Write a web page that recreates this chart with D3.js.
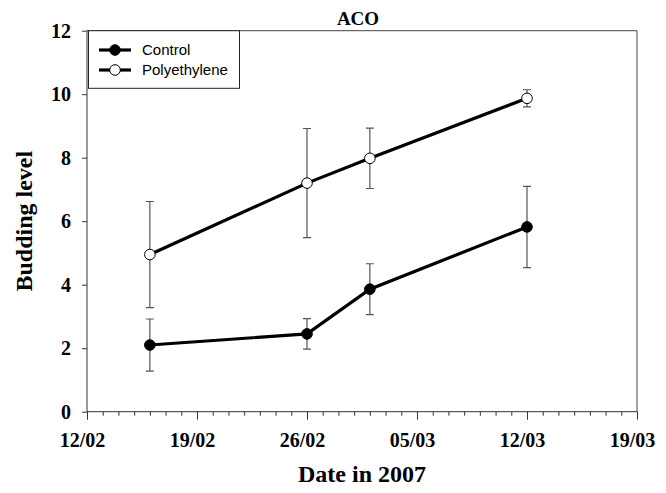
<!DOCTYPE html>
<html>
<head>
<meta charset="utf-8">
<script src="https://cdn.jsdelivr.net/npm/d3@7/dist/d3.min.js"></script>
<style>
  html, body { margin: 0; padding: 0; background: #fff; }
  svg { display: block; }
  .tick text { font-family: 'Liberation Serif', 'Times New Roman', serif; font-size: 20px; font-weight: bold; }
</style>
</head>
<body>
<div id="chart"></div>
<script>
// Sampling dates and budding level (mean ± error) for each treatment
const dates = ["2007-02-16", "2007-02-26", "2007-03-02", "2007-03-12"];
const controlMean = [2.10, 2.45, 3.86, 5.82];
const controlErr = [0.82, 0.48, 0.80, 1.28];
const polyMean = [4.95, 7.20, 7.98, 9.87];
const polyErr = [1.67, 1.72, 0.95, 0.27];
const seriesNames = ["Control", "Polyethylene"];
const xTickLabels = ["12/02", "19/02", "26/02", "05/03", "12/03", "19/03"];
const yTicks = [0, 2, 4, 6, 8, 10, 12];

const W = 666, H = 493;
const margin = { left: 87, right: 29, top: 30.7, bottom: 81.3 };
const serif = "'Liberation Serif', 'Times New Roman', serif";
const sans = "'Liberation Sans', Arial, sans-serif";

const parseDate = d3.timeParse("%Y-%m-%d");
const parseTick = d3.timeParse("%d/%m/%Y");
const tickDates = xTickLabels.map(t => parseTick(t + "/2007"));

const svg = d3.select("#chart").append("svg")
  .attr("width", W).attr("height", H);

const x = d3.scaleTime()
  .domain([tickDates[0], tickDates[tickDates.length - 1]])
  .range([margin.left, W - margin.right]);
const y = d3.scaleLinear()
  .domain([0, 12])
  .range([H - margin.bottom, margin.top]);

const x0 = x.range()[0], x1 = x.range()[1];
const y0 = y.range()[0], y1 = y.range()[1];

// Frame: top and right edges
svg.append("path")
  .attr("d", `M${x0},${y1}H${x1}V${y0}`)
  .attr("fill", "none").attr("stroke", "#444").attr("stroke-width", 1);

// Daily minor ticks on the x axis
const minorDays = d3.timeDay.range(tickDates[0], d3.timeDay.offset(tickDates[tickDates.length - 1], 1));
const xMinor = d3.axisBottom(x).tickValues(minorDays).tickSize(4).tickFormat("");
svg.append("g").attr("transform", `translate(0,${y0})`).call(xMinor)
  .call(g => g.select(".domain").remove())
  .call(g => g.selectAll("line").attr("stroke", "#333"));

// Major x axis
const xAxis = d3.axisBottom(x)
  .tickValues(tickDates)
  .tickSize(8)
  .tickPadding(13)
  .tickFormat((d, i) => xTickLabels[i]);
svg.append("g").attr("transform", `translate(0,${y0})`).call(xAxis)
  .attr("font-family", serif).attr("font-size", 20).attr("font-weight", "bold")
  .call(g => g.select(".domain").attr("stroke", "#333").attr("d", `M${x0},0H${x1}`))
  .call(g => g.selectAll("line").attr("stroke", "#333"))
  .call(g => g.selectAll("text").attr("dx", -5).attr("fill", "#000"));

// y axis
const yAxis = d3.axisLeft(y).tickValues(yTicks).tickSize(5).tickPadding(11);
svg.append("g").attr("transform", `translate(${x0},0)`).call(yAxis)
  .attr("font-family", serif).attr("font-size", 20).attr("font-weight", "bold")
  .call(g => g.select(".domain").attr("stroke", "#333").attr("d", `M0,${y0}V${y1}`))
  .call(g => g.selectAll("line").attr("stroke", "#333"))
  .call(g => g.selectAll("text").attr("fill", "#000"));

// Titles
svg.append("text")
  .attr("x", (x0 + x1) / 2 - 4).attr("y", 25)
  .attr("text-anchor", "middle")
  .style("font-family", serif).style("font-size", "19px").style("font-weight", "bold")
  .text("ACO");

svg.append("text")
  .attr("x", (x0 + x1) / 2).attr("y", 482)
  .attr("text-anchor", "middle")
  .style("font-family", serif).style("font-size", "24px").style("font-weight", "bold")
  .text("Date in 2007");

svg.append("text")
  .attr("transform", `translate(32,${(y0 + y1) / 2}) rotate(-90)`)
  .attr("text-anchor", "middle")
  .style("font-family", serif).style("font-size", "24px").style("font-weight", "bold")
  .text("Budding level");

// Series
const series = [
  { name: seriesNames[0], mean: controlMean, err: controlErr, fill: "#000" },
  { name: seriesNames[1], mean: polyMean, err: polyErr, fill: "#fff" }
].map(s => ({
  ...s,
  pts: dates.map((d, i) => ({ date: parseDate(d), v: s.mean[i], e: s.err[i] }))
}));

const capHalf = 4;
series.forEach(s => {
  const eb = svg.append("g").attr("stroke", "#555").attr("stroke-width", 1.2).attr("fill", "none");
  s.pts.forEach(p => {
    const cx = x(p.date), top = y(p.v + p.e), bot = y(p.v - p.e);
    eb.append("path")
      .attr("d", `M${cx},${top}V${bot}M${cx - capHalf},${top}H${cx + capHalf}M${cx - capHalf},${bot}H${cx + capHalf}`);
  });
});

const line = d3.line().x(p => x(p.date)).y(p => y(p.v));
series.forEach(s => {
  svg.append("path")
    .datum(s.pts)
    .attr("d", line)
    .attr("fill", "none").attr("stroke", "#000").attr("stroke-width", 3.2);
});

series.forEach(s => {
  svg.append("g").selectAll("circle")
    .data(s.pts).join("circle")
    .attr("cx", p => x(p.date)).attr("cy", p => y(p.v))
    .attr("r", 5.3)
    .attr("fill", s.fill).attr("stroke", "#000").attr("stroke-width", 1);
});

// Legend
const lg = svg.append("g");
lg.append("rect")
  .attr("x", 88.5).attr("y", 30.7).attr("width", 151).attr("height", 57.6)
  .attr("fill", "#fff").attr("stroke", "#222").attr("stroke-width", 1);
series.forEach((s, i) => {
  const ly = 50 + i * 20;
  lg.append("line")
    .attr("x1", 99).attr("x2", 131).attr("y1", ly).attr("y2", ly)
    .attr("stroke", "#000").attr("stroke-width", 3.2);
  lg.append("circle")
    .attr("cx", 115).attr("cy", ly).attr("r", 5.3)
    .attr("fill", s.fill).attr("stroke", "#000").attr("stroke-width", 1);
  lg.append("text")
    .attr("x", 142).attr("y", ly).attr("dy", "0.36em")
    .style("font-family", sans).style("font-size", "15px")
    .text(s.name);
});
</script>
</body>
</html>
